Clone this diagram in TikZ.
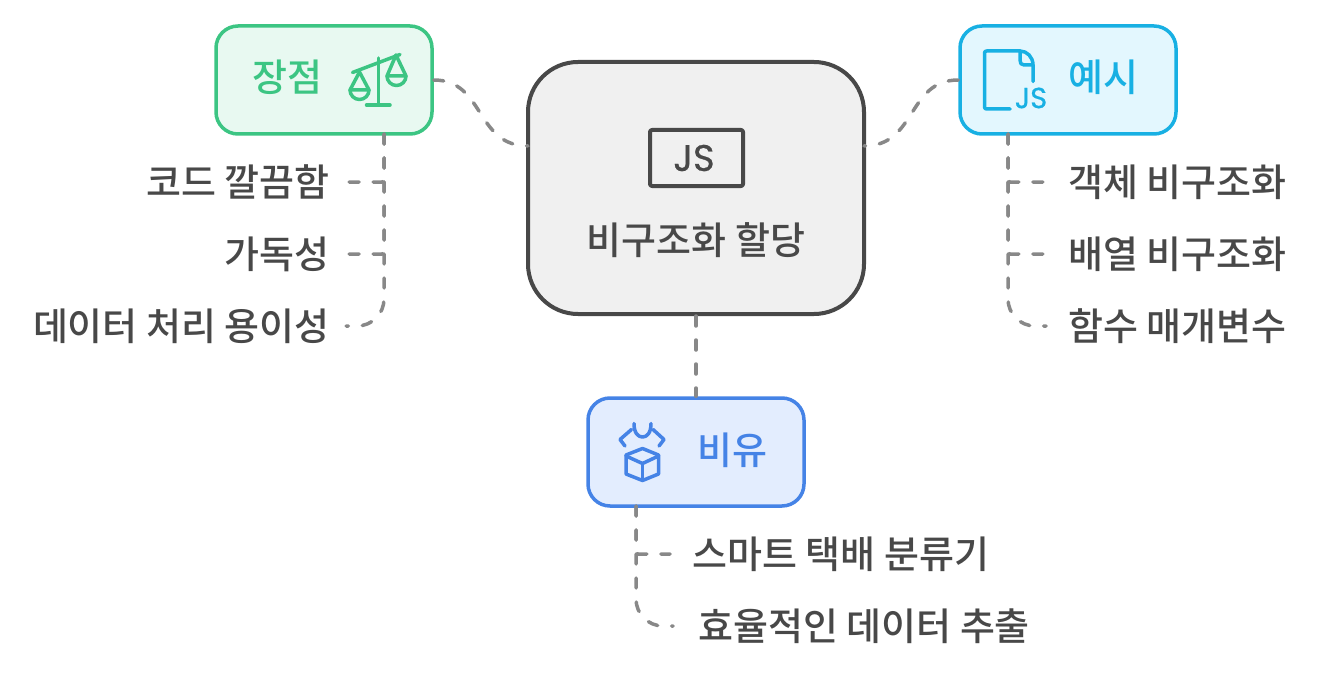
\documentclass[tikz,border=0pt]{standalone}
\usepackage{fontspec}
\setmainfont{Noto Sans CJK KR Medium}
\newfontfamily\jsfont[FakeBold=0.6]{Poppins}
\usepackage{xcolor}
\usepackage{tikz}
\usetikzlibrary{arrows.meta}
\definecolor{ink}{HTML}{484848}
\definecolor{linkgray}{HTML}{888888}
\definecolor{prosgreen}{HTML}{3CC583}
\definecolor{prosfill}{HTML}{E8F9F1}
\definecolor{examplecyan}{HTML}{18B0E3}
\definecolor{examplefill}{HTML}{E3F7FE}
\definecolor{simileblue}{HTML}{4583E6}
\definecolor{similefill}{HTML}{E3EDFE}
\tikzset{
  link/.style={draw=linkgray,line width=3.5pt,line cap=round,dash pattern=on 10pt off 14pt},
  topicbox/.style={draw=#1,line width=3.5pt,rounded corners=22pt,minimum width=216pt,minimum height=108pt,inner sep=0pt},
  topictext/.style={text=#1,font=\fontsize{38}{42}\selectfont,inner sep=0pt},
  leafleft/.style={text=ink,font=\fontsize{38}{42}\selectfont,anchor=east,inner xsep=16pt,inner ysep=0pt},
  leafright/.style={text=ink,font=\fontsize{38}{42}\selectfont,anchor=west,inner xsep=22pt,inner ysep=0pt},
  icon/.style={draw=#1,line width=3.5pt,line cap=round,line join=round}
}
\begin{document}
\begin{tikzpicture}[x=1pt,y=-1pt,>=Stealth]
\useasboundingbox(0,0)rectangle(1320,674);
\node[draw=ink,fill=black!6,line width=4pt,rounded corners=50pt,minimum width=336pt,minimum height=252pt,inner sep=0pt](destructuring)at(696,188){};
\node[topicbox=prosgreen,fill=prosfill](pros)at(324,80){};
\node[topicbox=examplecyan,fill=examplefill](examples)at(1068,80){};
\node[topicbox=simileblue,fill=similefill](simile)at(696,452){};
\node[topictext=ink](title)at(696,240){비구조화 할당};
\node[topictext=prosgreen](prostitle)at(287,77){장점};
\node[topictext=examplecyan](examplestitle)at(1103,77){예시};
\node[topictext=simileblue](similetitle)at(732,450){비유};
\node[leafleft](prosa)at(346,182){코드 깔끔함};
\node[leafleft](prosb)at(346,254){가독성};
\node[leafleft](prosc)at(346,326){데이터 처리 용이성};
\node[leafright](examplesa)at(1046,182){객체 비구조화};
\node[leafright](examplesb)at(1046,254){배열 비구조화};
\node[leafright](examplesc)at(1046,326){함수 매개변수};
\node[leafright](similea)at(670,554){스마트 택배 분류기};
\node[leafright,inner xsep=25pt](simileb)at(673,626){효율적인 데이터 추출};
\coordinate(jsleft)at(528,146);
\coordinate(jsright)at(864,146);
\coordinate(prostrunk)at(384,134);
\coordinate(examplestrunk)at(1008,134);
\coordinate(similetrunk)at(636,506);
\draw[link](pros.east)..controls(485,80)and(475,146)..(jsleft);
\draw[link](examples.west)..controls(907,80)and(917,146)..(jsright);
\draw[link](destructuring.south)--(simile.north);
\draw[link,rounded corners=2pt](prostrunk)|-(prosa.east);
\draw[link,rounded corners=2pt](prostrunk)|-(prosb.east);
\draw[link,rounded corners=27pt](prostrunk)|-(prosc.east);
\draw[link,rounded corners=2pt](examplestrunk)|-(examplesa.west);
\draw[link,rounded corners=2pt](examplestrunk)|-(examplesb.west);
\draw[link,rounded corners=27pt](examplestrunk)|-(examplesc.west);
\draw[link,rounded corners=2pt](similetrunk)|-(similea.west);
\draw[link,rounded corners=27pt](similetrunk)|-(simileb.west);
\draw[icon=ink,line width=4pt,rounded corners=2pt](650,130)rectangle(743,186);
\node[text=ink,font=\jsfont\fontsize{37}{40}\selectfont,inner sep=0pt](jsmark)at(694,158){JS};
\draw[icon=prosgreen](352.5,72.5)--(400,54.5);
\draw[icon=prosgreen](378.5,58)--(378.5,105);
\draw[icon=prosgreen](366.5,105)--(390,105);
\draw[icon=prosgreen](350,90)--(359.5,72)--(369,90)--cycle;
\draw[icon=prosgreen](350,90)arc[start angle=180,end angle=0,radius=9.5];
\draw[icon=prosgreen](387,76)--(396,55)--(406,76)--cycle;
\draw[icon=prosgreen](387,76)arc[start angle=180,end angle=0,radius=9.5];
\draw[icon=examplecyan,rounded corners=2pt](1010,109)--(984.5,109)--(984.5,51)--(1020,51);
\draw[icon=examplecyan](1020,51)..controls(1027,51)and(1033,57)..(1033,65)--(1033,81.5);
\draw[icon=examplecyan](1020,51)--(1020,60)..controls(1020,63)and(1021,65)..(1024,65)--(1033,65);
\node[text=examplecyan,font=\jsfont\fontsize{29}{31}\selectfont,inner sep=0pt](filemark)at(1031,98){JS};
\draw[icon=simileblue](625,446)--(620,439.5)--(631.5,429.5);
\draw[icon=simileblue](634,423.5)..controls(634,433)and(638,437)..(642.5,437)..controls(647,437)and(651,433)..(651,423.5);
\draw[icon=simileblue](653,429.5)--(664,439.5)--(659,446);
\draw[icon=simileblue](642.5,448.5)--(658.5,455)--(658.5,474)--(642.5,480.5)--(626,474)--(626,455)--cycle;
\draw[icon=simileblue](626,456)--(642.5,463.5)--(658.5,456);
\draw[icon=simileblue](642.5,463.5)--(642.5,480.5);
\end{tikzpicture}
\end{document}
